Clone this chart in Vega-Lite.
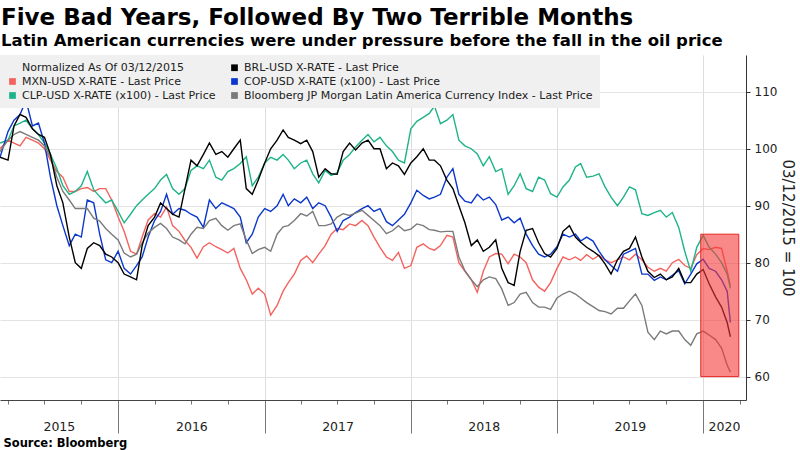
{
  "$schema": "https://vega.github.io/schema/vega-lite/v6.json",
  "width": 746,
  "height": 345,
  "autosize": {"type": "none"},
  "padding": {"left": 0, "top": 55, "right": 54, "bottom": 50},
  "background": "white",
  "view": {"stroke": null},
  "title": {
    "text": "Five Bad Years, Followed By Two Terrible Months",
    "subtitle": "Latin American currencies were under pressure before the fall in the oil price",
    "anchor": "start", "frame": "group", "offset": 6, "dx": 1,
    "font": "DejaVu Sans", "fontSize": 23, "fontWeight": "bold", "color": "#000",
    "subtitleFont": "DejaVu Sans", "subtitleFontSize": 16.5, "subtitleFontWeight": "bold", "subtitleColor": "#000", "subtitlePadding": 3
  },
  "datasets": {
    "box": [{"x1": "2019-12-26", "x2": "2020-03-30", "y1": 60, "y2": 85}]
  },
  "resolve": {"axis": {"x": "independent"}},
  "layer": [
    {
      "data": {"values": [
{"d":"2015-03-12","m":100,"b":98.5,"c":101,"p":98.5,"j":99.5},
{"d":"2015-04-01","m":101.5,"b":98,"c":101.5,"p":103,"j":101.5},
{"d":"2015-04-16","m":101,"b":104,"c":104,"p":105,"j":102.5},
{"d":"2015-05-01","m":100.5,"b":106,"c":104.5,"p":106,"j":103},
{"d":"2015-05-16","m":102,"b":105.5,"c":105,"p":108.5,"j":102.5},
{"d":"2015-06-01","m":101.5,"b":103.5,"c":103.5,"p":104,"j":102},
{"d":"2015-06-16","m":101,"b":102.5,"c":102.5,"p":104.5,"j":101.5},
{"d":"2015-07-01","m":100,"b":102,"c":101,"p":101,"j":100.5},
{"d":"2015-07-16","m":98,"b":99,"c":99,"p":95,"j":98.5},
{"d":"2015-08-01","m":96,"b":93.5,"c":96.5,"p":90,"j":95},
{"d":"2015-08-16","m":95,"b":90.5,"c":93.5,"p":86.5,"j":92.5},
{"d":"2015-09-01","m":92.5,"b":84.5,"c":92,"p":83,"j":91},
{"d":"2015-09-16","m":92.5,"b":80,"c":92.5,"p":85,"j":89.5},
{"d":"2015-10-01","m":93,"b":79,"c":93.5,"p":84.5,"j":89.5},
{"d":"2015-10-16","m":93.2,"b":82.5,"c":96,"p":91,"j":89.5},
{"d":"2015-11-01","m":92.5,"b":83.5,"c":92.8,"p":90.5,"j":87.8},
{"d":"2015-11-16","m":93,"b":83,"c":91.6,"p":85,"j":87.3},
{"d":"2015-12-01","m":93,"b":81.5,"c":90.5,"p":80.5,"j":86},
{"d":"2015-12-16","m":91,"b":81,"c":91,"p":80,"j":85},
{"d":"2016-01-01","m":88,"b":80,"c":89,"p":82,"j":84},
{"d":"2016-01-16","m":85.5,"b":78,"c":87,"p":79,"j":81.7},
{"d":"2016-02-01","m":82,"b":77.5,"c":88.5,"p":78,"j":81},
{"d":"2016-02-16","m":81.5,"b":77,"c":90,"p":79.5,"j":81.5},
{"d":"2016-03-01","m":84.5,"b":83,"c":91,"p":81,"j":83.5},
{"d":"2016-03-16","m":87.5,"b":86.5,"c":92,"p":84.5,"j":85.2},
{"d":"2016-04-01","m":88.6,"b":88,"c":93,"p":87.4,"j":86.2},
{"d":"2016-04-16","m":88,"b":90.5,"c":94.5,"p":89,"j":86.9},
{"d":"2016-05-01","m":89.8,"b":89.5,"c":95.5,"p":92,"j":86},
{"d":"2016-05-16","m":86.5,"b":88.5,"c":93,"p":88.5,"j":84.5},
{"d":"2016-06-01","m":85.5,"b":88,"c":92,"p":89.5,"j":84},
{"d":"2016-06-16","m":83.9,"b":93,"c":93,"p":89.2,"j":83.3},
{"d":"2016-07-01","m":82.7,"b":98,"c":96.2,"p":88.5,"j":85},
{"d":"2016-07-16","m":80.8,"b":97,"c":97,"p":88,"j":86.2},
{"d":"2016-08-01","m":82.8,"b":99,"c":96.5,"p":86.2,"j":86},
{"d":"2016-08-16","m":83.5,"b":101,"c":98,"p":91,"j":87.4},
{"d":"2016-09-01","m":82.8,"b":99,"c":95,"p":89.5,"j":87.8},
{"d":"2016-09-16","m":82.3,"b":99.5,"c":94.5,"p":90.5,"j":86.5},
{"d":"2016-10-01","m":81.7,"b":98.5,"c":96,"p":90,"j":85.7},
{"d":"2016-10-16","m":82.5,"b":100,"c":96.5,"p":89.5,"j":86.5},
{"d":"2016-11-01","m":79,"b":101.5,"c":97.4,"p":88,"j":86.8},
{"d":"2016-11-16","m":77,"b":93,"c":98.6,"p":83.5,"j":84},
{"d":"2016-12-01","m":74.5,"b":92,"c":93.5,"p":85,"j":81.6},
{"d":"2016-12-16","m":75.5,"b":94.5,"c":95,"p":88,"j":82.3},
{"d":"2017-01-01","m":74.5,"b":97.5,"c":97.5,"p":89.5,"j":82.7},
{"d":"2017-01-16","m":70.8,"b":100,"c":98.5,"p":89,"j":82},
{"d":"2017-02-01","m":72.5,"b":101.5,"c":98,"p":90,"j":85},
{"d":"2017-02-16","m":75,"b":103.3,"c":99,"p":92,"j":86.3},
{"d":"2017-03-01","m":76.5,"b":102,"c":98,"p":90,"j":86.5},
{"d":"2017-03-16","m":78,"b":101.5,"c":96.5,"p":91.2,"j":87.4},
{"d":"2017-04-01","m":80.4,"b":100.9,"c":97.5,"p":90.5,"j":88.6},
{"d":"2017-04-16","m":81.2,"b":101.5,"c":98,"p":91.5,"j":88.2},
{"d":"2017-05-01","m":80,"b":99.5,"c":95.6,"p":89.5,"j":89},
{"d":"2017-05-16","m":81.5,"b":95,"c":94,"p":90.5,"j":86.5},
{"d":"2017-06-01","m":83,"b":96.5,"c":96.2,"p":90,"j":86.5},
{"d":"2017-06-16","m":85,"b":95.6,"c":95.3,"p":88,"j":86.8},
{"d":"2017-07-01","m":86,"b":95.5,"c":95.8,"p":85.5,"j":88},
{"d":"2017-07-16","m":85.8,"b":99.5,"c":98,"p":87.4,"j":88.6},
{"d":"2017-08-01","m":86.8,"b":101,"c":99,"p":88,"j":88.3},
{"d":"2017-08-16","m":86.5,"b":99.8,"c":100.3,"p":88.8,"j":88.7},
{"d":"2017-09-01","m":87.4,"b":101,"c":101.5,"p":89.5,"j":89.2},
{"d":"2017-09-16","m":86.5,"b":101.5,"c":102.5,"p":90,"j":88.3},
{"d":"2017-10-01","m":84.5,"b":100,"c":101.2,"p":89,"j":87.4},
{"d":"2017-10-16","m":82.7,"b":100,"c":102,"p":89.5,"j":86.5},
{"d":"2017-11-01","m":81,"b":96.5,"c":100.5,"p":87.2,"j":85.1},
{"d":"2017-11-16","m":80.4,"b":97.5,"c":99.5,"p":86.5,"j":85.6},
{"d":"2017-12-01","m":81.8,"b":97,"c":98,"p":87.5,"j":86.5},
{"d":"2017-12-16","m":79,"b":95.5,"c":97.5,"p":88.5,"j":85.6},
{"d":"2018-01-01","m":79.5,"b":97.5,"c":103.5,"p":90.5,"j":85.9},
{"d":"2018-01-16","m":82.7,"b":98.6,"c":104.8,"p":92.7,"j":86.8},
{"d":"2018-02-01","m":83.3,"b":100,"c":105.5,"p":91.8,"j":86.5},
{"d":"2018-02-16","m":82.5,"b":98,"c":106.2,"p":91.2,"j":85.8},
{"d":"2018-03-01","m":82.2,"b":98,"c":107.5,"p":91.5,"j":85.7},
{"d":"2018-03-16","m":83,"b":97,"c":104.4,"p":92,"j":85.4},
{"d":"2018-04-01","m":84.8,"b":94.5,"c":105,"p":95,"j":85.5},
{"d":"2018-04-16","m":84.5,"b":93,"c":106,"p":96.5,"j":85.5},
{"d":"2018-05-01","m":80,"b":90,"c":101.5,"p":92,"j":81},
{"d":"2018-05-16","m":78.5,"b":87,"c":100.5,"p":90.8,"j":78.6},
{"d":"2018-06-01","m":77,"b":83,"c":100,"p":90.5,"j":77},
{"d":"2018-06-16","m":74.8,"b":84,"c":99.1,"p":92,"j":75.8},
{"d":"2018-07-01","m":78.5,"b":82,"c":97,"p":91,"j":77},
{"d":"2018-07-16","m":81,"b":82.7,"c":98.6,"p":91.5,"j":77.5},
{"d":"2018-08-01","m":81.6,"b":84,"c":96,"p":90.2,"j":77.2},
{"d":"2018-08-16","m":81.5,"b":79,"c":96.5,"p":87.5,"j":75.4},
{"d":"2018-09-01","m":79.8,"b":76.5,"c":92,"p":88,"j":72.5},
{"d":"2018-09-16","m":81.5,"b":76,"c":93.5,"p":87,"j":73},
{"d":"2018-10-01","m":81,"b":82,"c":95.6,"p":87.8,"j":74.5},
{"d":"2018-10-16","m":80,"b":85.7,"c":93,"p":85,"j":74.8},
{"d":"2018-11-01","m":77,"b":86,"c":92.5,"p":83,"j":73},
{"d":"2018-11-16","m":75.7,"b":83.5,"c":95,"p":81.5,"j":72.2},
{"d":"2018-12-01","m":75,"b":81.6,"c":94.5,"p":81,"j":72.2},
{"d":"2018-12-16","m":76.5,"b":81,"c":92.1,"p":81.5,"j":71.8},
{"d":"2019-01-01","m":79,"b":82.5,"c":91.5,"p":82.8,"j":73.8},
{"d":"2019-01-16","m":81,"b":85.5,"c":93.3,"p":85,"j":74.5},
{"d":"2019-02-01","m":80.5,"b":86.5,"c":94.5,"p":84.5,"j":75},
{"d":"2019-02-16","m":81,"b":84.5,"c":96.8,"p":85,"j":74.5},
{"d":"2019-03-01","m":80.4,"b":83.6,"c":97.4,"p":83.8,"j":73.8},
{"d":"2019-03-16","m":81.4,"b":82.7,"c":95,"p":84.5,"j":73},
{"d":"2019-04-01","m":80.6,"b":82,"c":95.2,"p":83.8,"j":72.3},
{"d":"2019-04-16","m":81.3,"b":81.2,"c":95.6,"p":82,"j":71.6},
{"d":"2019-05-01","m":80.5,"b":79.8,"c":93.3,"p":80.5,"j":71.4},
{"d":"2019-05-16","m":80,"b":78,"c":91.5,"p":79.5,"j":71},
{"d":"2019-06-01","m":80.5,"b":80.5,"c":90,"p":78.5,"j":72},
{"d":"2019-06-16","m":81,"b":82,"c":91.5,"p":81.5,"j":72},
{"d":"2019-07-01","m":80.5,"b":82.5,"c":93.3,"p":82,"j":73.3},
{"d":"2019-07-16","m":81.5,"b":84.5,"c":92.8,"p":82.5,"j":74.5},
{"d":"2019-08-01","m":80.5,"b":81,"c":88.6,"p":78,"j":72.5},
{"d":"2019-08-16","m":79.2,"b":78.5,"c":88.3,"p":78,"j":67.8},
{"d":"2019-09-01","m":78.5,"b":77.4,"c":88.8,"p":76.9,"j":66.5},
{"d":"2019-09-16","m":79,"b":78,"c":89.2,"p":77.5,"j":68},
{"d":"2019-10-01","m":78.5,"b":77,"c":88,"p":77,"j":67.5},
{"d":"2019-10-16","m":80,"b":77.5,"c":88.8,"p":77.8,"j":68},
{"d":"2019-11-01","m":80.6,"b":79,"c":86.2,"p":78.6,"j":68},
{"d":"2019-11-16","m":79.5,"b":76.5,"c":82,"p":76.3,"j":66.5},
{"d":"2019-12-01","m":79,"b":76.5,"c":78.5,"p":78,"j":65.5},
{"d":"2019-12-16","m":81.4,"b":78,"c":82.7,"p":79.8,"j":67.5},
{"d":"2020-01-01","m":82.5,"b":78.8,"c":84.8,"p":80.6,"j":68},
{"d":"2020-01-16","m":82.3,"b":76.3,"c":82.7,"p":79,"j":67.3},
{"d":"2020-02-01","m":82.7,"b":74,"c":81.5,"p":78.5,"j":66.5},
{"d":"2020-02-16","m":82.5,"b":72.2,"c":80,"p":77,"j":65},
{"d":"2020-03-01","m":78.5,"b":69.5,"c":78,"p":75,"j":62},
{"d":"2020-03-09","m":76,"b":67,"c":75.5,"p":69.5,"j":60.8}
      ]},
      "transform": [{"fold": ["m", "c", "p", "j", "b"], "as": ["s", "v"]}],
      "mark": {"type": "line", "strokeWidth": 1.4, "interpolate": "linear"},
      "encoding": {
        "x": {
          "field": "d", "type": "temporal",
          "scale": {"type": "utc", "domain": [{"year": 2015, "month": 3, "date": 12, "utc": true}, {"year": 2020, "month": 4, "date": 17, "utc": true}]},
          "axis": {
            "orient": "bottom",
            "title": "Source: Bloomberg",
            "titleFont": "DejaVu Sans", "titleFontSize": 11.5, "titleFontWeight": "bold", "titleColor": "#000",
            "titleAnchor": "start", "titleAlign": "left", "titleBaseline": "alphabetic", "titleX": 3, "titleY": 46,
            "values": [
              {"year": 2015, "month": 4, "date": 1, "utc": true},
              {"year": 2015, "month": 7, "date": 1, "utc": true},
              {"year": 2015, "month": 10, "date": 1, "utc": true},
              {"year": 2016, "month": 1, "date": 1, "utc": true},
              {"year": 2016, "month": 4, "date": 1, "utc": true},
              {"year": 2016, "month": 7, "date": 1, "utc": true},
              {"year": 2016, "month": 10, "date": 1, "utc": true},
              {"year": 2017, "month": 1, "date": 1, "utc": true},
              {"year": 2017, "month": 4, "date": 1, "utc": true},
              {"year": 2017, "month": 7, "date": 1, "utc": true},
              {"year": 2017, "month": 10, "date": 1, "utc": true},
              {"year": 2018, "month": 1, "date": 1, "utc": true},
              {"year": 2018, "month": 4, "date": 1, "utc": true},
              {"year": 2018, "month": 7, "date": 1, "utc": true},
              {"year": 2018, "month": 10, "date": 1, "utc": true},
              {"year": 2019, "month": 1, "date": 1, "utc": true},
              {"year": 2019, "month": 4, "date": 1, "utc": true},
              {"year": 2019, "month": 7, "date": 1, "utc": true},
              {"year": 2019, "month": 10, "date": 1, "utc": true},
              {"year": 2020, "month": 1, "date": 1, "utc": true},
              {"year": 2020, "month": 4, "date": 1, "utc": true}
            ],
            "labels": false,
            "tickSize": {"condition": {"test": "utcmonth(datum.value) == 0", "value": 33}, "value": 4},
            "tickColor": "#777",
            "grid": true,
            "gridColor": "#dcdcdc",
            "gridOpacity": {"condition": {"test": "utcmonth(datum.value) == 0", "value": 1}, "value": 0},
            "domainColor": "#444"
          }
        },
        "y": {
          "field": "v", "type": "quantitative",
          "scale": {"domain": [55.9, 116.45], "nice": false, "zero": false},
          "axis": {
            "orient": "right",
            "values": [60, 65, 70, 75, 80, 85, 90, 95, 100, 105, 110, 115],
            "labelExpr": "datum.value % 10 == 0 ? datum.label : ''",
            "gridColor": "#e3e3e3",
            "gridOpacity": {"condition": {"test": "datum.value % 10 == 0", "value": 1}, "value": 0},
            "tickSize": 4, "tickColor": "#333", "domainColor": "#333",
            "labelFont": "DejaVu Sans", "labelFontSize": 12, "labelColor": "#222", "labelPadding": 4,
            "title": "03/12/2015 = 100", "titleFont": "DejaVu Sans", "titleFontSize": 15, "titleFontWeight": "normal", "titleColor": "#222", "titlePadding": 3
          }
        },
        "color": {
          "field": "s", "type": "nominal",
          "scale": {
            "domain": ["H", "m", "c", "b", "p", "j"],
            "range": ["rgba(0,0,0,0)", "#f4625e", "#1fb389", "#000000", "#0b37cc", "#7a7a7a"]
          },
          "legend": {
            "orient": "none", "legendX": 0, "legendY": 0,
            "columns": 2, "title": null,
            "fillColor": "#f0f0f0", "padding": 7,
            "symbolType": "square", "symbolSize": 45, "symbolStrokeWidth": 0,
            "labelFont": "DejaVu Sans", "labelFontSize": 11, "labelColor": "#222", "labelLimit": 500, "labelOffset": 4,
            "columnPadding": 13, "rowPadding": 2,
            "labelExpr": "datum.value == 'H' ? '\u00a0\u00a0\u00a0\u00a0Normalized As Of 03/12/2015' : datum.value == 'b' ? 'BRL-USD X-RATE - Last Price' : datum.value == 'm' ? 'MXN-USD X-RATE - Last Price' : datum.value == 'p' ? 'COP-USD X-RATE (x100) - Last Price' : datum.value == 'c' ? 'CLP-USD X-RATE (x100) - Last Price' : 'Bloomberg JP Morgan Latin America Currency Index - Last Price'",
            "encode": {"symbols": {"update": {"fill": {"scale": "color", "field": "value"}, "stroke": {"value": "transparent"}}}}
          }
        }
      }
    },
    {
      "data": {"name": "box"},
      "mark": {"type": "rect", "fill": "#f53b3b", "fillOpacity": 0.6, "stroke": "#e8241f", "strokeWidth": 1},
      "encoding": {
        "x": {
          "field": "x1", "type": "temporal",
          "axis": {
            "orient": "bottom",
            "title": null,
            "values": [
              {"year": 2015, "month": 8, "date": 6, "utc": true},
              {"year": 2016, "month": 7, "date": 2, "utc": true},
              {"year": 2017, "month": 7, "date": 2, "utc": true},
              {"year": 2018, "month": 7, "date": 2, "utc": true},
              {"year": 2019, "month": 7, "date": 2, "utc": true},
              {"year": 2020, "month": 2, "date": 22, "utc": true}
            ],
            "labelExpr": "utcFormat(datum.value, '%Y')",
            "labelOverlap": false, "labelFlush": false, "labelBound": false,
            "labelFont": "DejaVu Sans", "labelFontSize": 12.5, "labelColor": "#222", "labelPadding": 20,
            "ticks": false, "domain": false, "grid": false
          }
        },
        "x2": {"field": "x2"},
        "y": {"field": "y1", "type": "quantitative"},
        "y2": {"field": "y2"}
      }
    }
  ]
}
